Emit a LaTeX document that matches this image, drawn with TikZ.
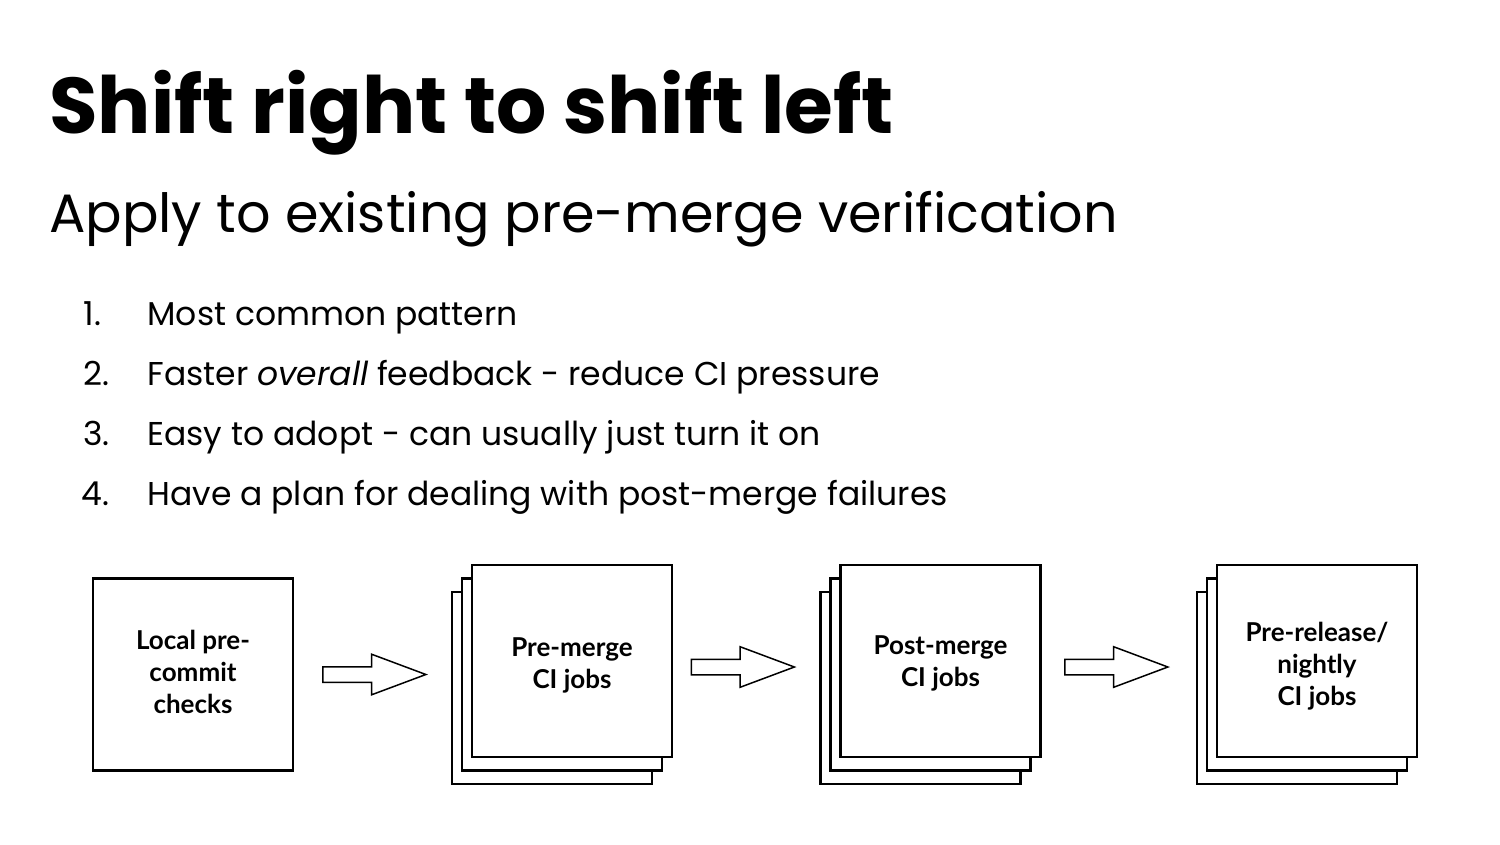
\documentclass[tikz,border=0pt]{standalone}
\usepackage{fontspec}
\setmainfont{Poppins}
\newfontfamily\boxfont{Lato}
\usetikzlibrary{shapes.arrows}

\begin{document}
\begin{tikzpicture}[x=1pt, y=-1pt,
		sheet/.style = {draw, line width=2.2pt, fill=white, minimum width=200pt, minimum height=192pt, inner sep=0pt},
		cardtext/.style = {font=\boxfont\bfseries\fontsize{26}{32}\selectfont, align=center},
		item/.style = {anchor=base west, font=\fontsize{33}{38}\selectfont},
		flow/.style = {single arrow, draw, line width=1.5pt, minimum height=103pt, inner sep=7pt, single arrow head extend=12.5pt, single arrow tip angle=41}]
	\useasboundingbox (0,0) rectangle (1500,844);
	\node[anchor=base west, font=\bfseries\fontsize{79}{90}\selectfont, inner sep=0pt] (title) at (49,133) {Shift right to shift left};
	\node[anchor=base west, font=\fontsize{54}{62}\selectfont, inner sep=0pt] (subtitle) at (49,232) {Apply to existing pre-merge verification};
	\node[item] (n1) at (80,325) {1.};
	\node[item] (n2) at (80,385) {2.};
	\node[item] (n3) at (80,445) {3.};
	\node[item] (n4) at (78,505) {4.};
	\node[item] (t1) at (144,325) {Most common pattern};
	\node[item] (t2) at (144,385) {Faster \textit{overall} feedback - reduce CI pressure};
	\node[item] (t3) at (144,445) {Easy to adopt - can usually just turn it on};
	\node[item] (t4) at (144,505) {Have a plan for dealing with post-merge failures};
	\node[sheet] (local) at (193,674.5) {};
	\node[cardtext] (localtext) at ([yshift=3pt]local.center) {Local pre-\\commit\\checks};
	\node[sheet] (pre3) at (552,688) {};
	\node[sheet] (pre2) at (562,674.5) {};
	\node[sheet] (pre) at (572,661) {};
	\node[cardtext] (pretext) at ([yshift=-4pt]pre.center) {Pre-merge\\CI jobs};
	\node[sheet] (post3) at (920.5,688) {};
	\node[sheet] (post2) at (930.5,674.5) {};
	\node[sheet] (post) at (940.5,661) {};
	\node[cardtext] (posttext) at ([yshift=-2pt]post.center) {Post-merge\\CI jobs};
	\node[sheet] (rel3) at (1297,688) {};
	\node[sheet] (rel2) at (1307,674.5) {};
	\node[sheet] (rel) at (1317,661) {};
	\node[cardtext] (reltext) at ([yshift=-5pt]rel.center) {Pre-release/\\nightly\\CI jobs};
	\node[flow] (a1) at (364,674.5) {};
	\node[flow] (a2) at (732.5,667) {};
	\node[flow] (a3) at (1106,667) {};
\end{tikzpicture}
\end{document}
